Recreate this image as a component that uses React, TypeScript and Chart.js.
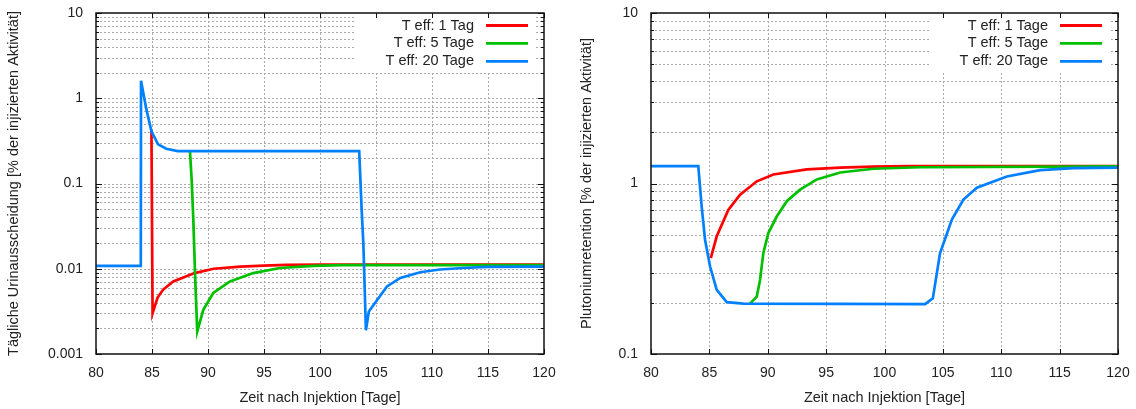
import React, { useEffect, useRef } from 'react';
import { Chart, registerables } from 'chart.js';

Chart.register(...registerables);

// ---------- data ----------
const X_TICKS = [80, 85, 90, 95, 100, 105, 110, 115, 120];

const URINE_DECADES = [0.001, 0.01, 0.1, 1, 10];
const URINE_DECADE_LABELS = ['0.001', '0.01', '0.1', '1', '10'];
const RET_DECADES = [0.1, 1, 10];
const RET_DECADE_LABELS = ['0.1', '1', '10'];

const URINE_LABELS = ['T eff: 1 Tag', 'T eff: 5 Tage', 'T eff: 20 Tage'];
const RET_LABELS = ['T eff: 1 Tage', 'T eff: 5 Tage', 'T eff: 20 Tage'];
const SERIES_COLORS = ['#ff0000', '#00c000', '#0080ff'];

const X_TITLE = 'Zeit nach Injektion [Tage]';
const URINE_Y_TITLE = 'Tägliche Urinausscheidung [% der injizierten Aktivität]';
const RET_Y_TITLE = 'Plutoniumretention [% der injizierten Aktivität]';

// Daily urinary excretion
const urine1X = [84.95, 85.05, 85.5, 86.0, 86.9, 88.8, 90.5, 92.9, 95.0, 97.0, 100.0, 120.0];
const urine1Y = [0.42, 0.003, 0.0046, 0.0057, 0.0071, 0.0089, 0.0100, 0.0106, 0.0109, 0.0111, 0.0112, 0.0112];
const urine5X = [88.39, 88.54, 88.69, 88.84, 89.04, 89.58, 90.47, 91.96, 94.04, 96.43, 99.4, 102.0, 120.0];
const urine5Y = [0.24, 0.111, 0.0377, 0.0089, 0.00183, 0.0033, 0.0052, 0.0071, 0.0089, 0.0102, 0.0108, 0.011, 0.011];
const urine20X = [80.0, 84.0, 84.02, 84.5, 84.95, 85.54, 86.28, 87.3, 103.5, 103.72, 103.87, 104.1, 104.36, 105.1, 105.98, 107.17, 108.95, 110.7, 112.8, 114.9, 120.0];
const urine20Y = [0.0108, 0.0108, 1.6, 0.74, 0.41, 0.288, 0.256, 0.24, 0.24, 0.049, 0.02, 0.0019, 0.00315, 0.0043, 0.0062, 0.0078, 0.0091, 0.0098, 0.0102, 0.0105, 0.0106];

// Plutonium retention
const ret1X = [85.12, 85.63, 86.62, 87.63, 89.06, 90.48, 93.34, 96.2, 99.0, 102.0, 120.0];
const ret1Y = [0.365, 0.49, 0.70, 0.86, 1.03, 1.13, 1.21, 1.24, 1.255, 1.265, 1.265];
const ret5X = [88.48, 89.06, 89.34, 89.62, 90.05, 90.77, 91.63, 92.77, 94.2, 96.2, 99.05, 103.05, 120.0];
const ret5Y = [0.1975, 0.217, 0.272, 0.39, 0.512, 0.64, 0.787, 0.92, 1.056, 1.16, 1.22, 1.245, 1.26];
const ret20X = [80.0, 84.05, 84.34, 84.63, 85.06, 85.63, 86.49, 87.91, 103.48, 104.14, 104.76, 105.77, 106.76, 107.91, 110.48, 113.33, 116.16, 120.0];
const ret20Y = [1.265, 1.265, 0.733, 0.468, 0.326, 0.238, 0.2015, 0.1975, 0.196, 0.212, 0.391, 0.614, 0.805, 0.944, 1.10, 1.197, 1.23, 1.24];

// ---------- helpers ----------
const FONT_FAMILY = '"Liberation Sans", Arial, Helvetica, sans-serif';
const TEXT_COLOR = '#222';
const TITLE_SIZE = 14.5;

function logTickValues(decades: number[]) {
  const vals: number[] = [];
  for (let i = 0; i < decades.length - 1; i++) {
    for (let k = 1; k < 10; k++) vals.push(Number((k * decades[i]).toPrecision(4)));
  }
  vals.push(decades[decades.length - 1]);
  return vals;
}

const gnuFrame = {
  id: 'gnuFrame',
  beforeDatasetsDraw(chart: any) {
    const { ctx, chartArea: a, scales } = chart;
    const xs = scales.x;
    const ys = scales.y;
    ctx.save();
    // dotted grid
    ctx.strokeStyle = '#aaaaaa';
    ctx.lineWidth = 1;
    ctx.setLineDash([2, 2]);
    for (const t of ys.ticks) {
      if (t.value <= ys.min * 1.0001 || t.value >= ys.max * 0.9999) continue;
      const y = Math.round(ys.getPixelForValue(t.value)) + 0.5;
      ctx.beginPath();
      ctx.moveTo(a.left, y);
      ctx.lineTo(a.right, y);
      ctx.stroke();
    }
    for (const t of xs.ticks) {
      if (t.value <= xs.min || t.value >= xs.max) continue;
      const x = Math.round(xs.getPixelForValue(t.value)) + 0.5;
      ctx.beginPath();
      ctx.moveTo(x, a.top);
      ctx.lineTo(x, a.bottom);
      ctx.stroke();
    }
    ctx.setLineDash([]);
    // opaque key
    ctx.fillStyle = '#ffffff';
    ctx.fillRect(a.right - 189, a.top + 1, 180, 58);
    ctx.font = `${TITLE_SIZE}px ${FONT_FAMILY}`;
    ctx.textAlign = 'right';
    ctx.textBaseline = 'middle';
    chart.data.datasets.forEach((ds: any, i: number) => {
      const y = a.top + 12.5 + i * 17.9;
      ctx.fillStyle = TEXT_COLOR;
      ctx.fillText(ds.label, a.right - 70, y);
      ctx.strokeStyle = ds.borderColor;
      ctx.lineWidth = 2.8;
      ctx.beginPath();
      ctx.moveTo(a.right - 58, y);
      ctx.lineTo(a.right - 16, y);
      ctx.stroke();
    });
    ctx.restore();
  },
  afterDatasetsDraw(chart: any) {
    const { ctx, chartArea: a, scales } = chart;
    const xs = scales.x;
    const ys = scales.y;
    ctx.save();
    ctx.strokeStyle = '#111';
    ctx.lineWidth = 1;
    for (const t of ys.ticks) {
      const y = Math.round(ys.getPixelForValue(t.value)) + 0.5;
      const lg = Math.log10(t.value);
      const major = Math.abs(lg - Math.round(lg)) < 1e-6;
      const len = major ? 6 : 3;
      ctx.beginPath();
      ctx.moveTo(a.left, y);
      ctx.lineTo(a.left + len, y);
      ctx.moveTo(a.right, y);
      ctx.lineTo(a.right - len, y);
      ctx.stroke();
    }
    for (const t of xs.ticks) {
      const x = Math.round(xs.getPixelForValue(t.value)) + 0.5;
      ctx.beginPath();
      ctx.moveTo(x, a.bottom);
      ctx.lineTo(x, a.bottom - 5);
      ctx.moveTo(x, a.top);
      ctx.lineTo(x, a.top + 5);
      ctx.stroke();
    }
    ctx.lineWidth = 1.5;
    ctx.strokeRect(a.left, a.top, a.right - a.left, a.bottom - a.top);
    ctx.restore();
  },
};

type PanelSpec = {
  xsList: number[][];
  ysList: number[][];
  labels: string[];
  decades: number[];
  decadeLabels: string[];
  yTitle: string;
  plotLeft: number;
  rightPad: number;
  yTitlePad: number;
};

function makeConfig(spec: PanelSpec): any {
  const yTicks = logTickValues(spec.decades);
  const datasets = spec.labels.map((label, i) => ({
    label,
    data: spec.xsList[i].map((x, j) => ({ x, y: spec.ysList[i][j] })),
    borderColor: SERIES_COLORS[i],
    backgroundColor: SERIES_COLORS[i],
    borderWidth: 2.7,
    pointRadius: 0,
    tension: 0,
    fill: false,
    order: spec.labels.length - 1 - i,
  }));
  return {
    type: 'line',
    data: { datasets },
    plugins: [gnuFrame],
    options: {
      responsive: false,
      animation: false,
      devicePixelRatio: 1,
      events: [],
      layout: { padding: { left: 0, right: spec.rightPad, top: 13, bottom: 0 } },
      plugins: { legend: { display: false }, tooltip: { enabled: false } },
      scales: {
        x: {
          type: 'linear',
          min: 80,
          max: 120,
          afterBuildTicks: (s: any) => {
            s.ticks = X_TICKS.map((v) => ({ value: v }));
          },
          afterFit: (s: any) => {
            s.height = 55;
            s.paddingLeft = 0;
            s.paddingRight = 0;
          },
          grid: { display: false, drawTicks: false },
          border: { display: false },
          ticks: {
            autoSkip: false,
            maxRotation: 0,
            padding: 11,
            color: TEXT_COLOR,
            font: { size: 14, family: FONT_FAMILY },
            callback: (v: any) => String(v),
          },
          title: {
            display: true,
            text: X_TITLE,
            color: TEXT_COLOR,
            font: { size: TITLE_SIZE, family: FONT_FAMILY },
            padding: { top: 0, bottom: 2 },
          },
        },
        y: {
          type: 'logarithmic',
          min: spec.decades[0],
          max: spec.decades[spec.decades.length - 1],
          afterBuildTicks: (s: any) => {
            s.ticks = yTicks.map((v) => ({ value: v }));
          },
          afterFit: (s: any) => {
            s.width = spec.plotLeft;
            s.paddingTop = 0;
            s.paddingBottom = 0;
          },
          grid: { display: false, drawTicks: false },
          border: { display: false },
          ticks: {
            autoSkip: false,
            padding: 13,
            color: TEXT_COLOR,
            font: { size: 14, family: FONT_FAMILY },
            callback: (v: any) => {
              const idx = spec.decades.findIndex((d) => Math.abs(d - v) / d < 1e-6);
              return idx >= 0 ? spec.decadeLabels[idx] : '';
            },
          },
          title: {
            display: true,
            text: spec.yTitle,
            color: TEXT_COLOR,
            font: { size: TITLE_SIZE, family: FONT_FAMILY },
            padding: { top: spec.yTitlePad, bottom: 0 },
          },
        },
      },
    },
  };
}

function Panel({ left, spec }: { left: number; spec: PanelSpec }) {
  const ref = useRef<HTMLCanvasElement | null>(null);
  useEffect(() => {
    if (!ref.current) return;
    const chart = new Chart(ref.current, makeConfig(spec));
    return () => chart.destroy();
  }, []);
  return (
    <canvas
      ref={ref}
      width={568}
      height={409}
      style={{ position: 'absolute', left, top: 0, width: 568, height: 409, display: 'block' }}
    />
  );
}

const URINE_SPEC: PanelSpec = {
  xsList: [urine1X, urine5X, urine20X],
  ysList: [urine1Y, urine5Y, urine20Y],
  labels: URINE_LABELS,
  decades: URINE_DECADES,
  decadeLabels: URINE_DECADE_LABELS,
  yTitle: URINE_Y_TITLE,
  plotLeft: 96,
  rightPad: 24,
  yTitlePad: 5.3,
};

const RET_SPEC: PanelSpec = {
  xsList: [ret1X, ret5X, ret20X],
  ysList: [ret1Y, ret5Y, ret20Y],
  labels: RET_LABELS,
  decades: RET_DECADES,
  decadeLabels: RET_DECADE_LABELS,
  yTitle: RET_Y_TITLE,
  plotLeft: 83,
  rightPad: 18,
  yTitlePad: 10.6,
};

export default function App() {
  return (
    <div style={{ position: 'absolute', left: 0, top: 0, width: 1136, height: 409, background: '#fff', overflow: 'hidden' }}>
      <Panel left={0} spec={URINE_SPEC} />
      <Panel left={568} spec={RET_SPEC} />
    </div>
  );
}
